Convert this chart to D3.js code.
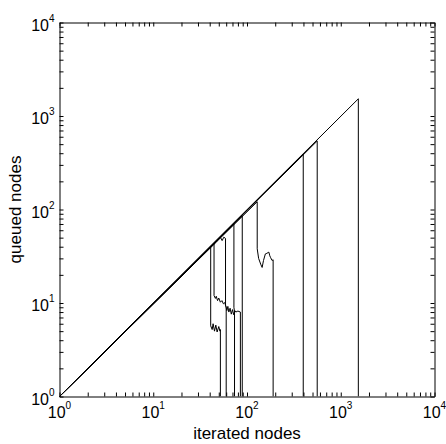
<!DOCTYPE html>
<html>
<head>
<meta charset="utf-8">
<script src="https://cdn.jsdelivr.net/npm/d3@7"></script>
<style>
  html, body { margin: 0; padding: 0; background: #fff; }
  svg { display: block; font-family: "Liberation Sans", Arial, sans-serif; }
</style>
</head>
<body>
<svg id="chart" width="446" height="444"></svg>
<script>
// ---- data: (iterated nodes, queued nodes) for each run ----
const runA = [[1,1],[41,40],[41,5.7],[42.5,5.2],[43.5,6],[45,5],[46.5,5.8],[48,4.9],[50,5.6],[51.5,5],[52,5.2],[52,1]];
const runB = [[1,1],[44.5,43.5],[44.5,12],[46,11.2],[47,11.8],[48.5,10.6],[50,11.3],[52,10.2],[54,10.6],[56,9.8],[58,10.1],[59.5,9.2],[61,8.3],[62.5,9.2],[64,8],[66,8.8],[68,7.6],[70,8.5],[72,7.5],[74,8.3],[76,8],[80,8.2],[85,8],[85,1]];
const runC = [[1,1],[47,45],[52,50.5],[54.3,46.5],[56.6,50.6],[59,49],[59,9.4],[60,9],[60,1]];
const runD = [[1,1],[72.5,70],[72.5,9],[73.6,8],[73.6,1]];
const runE = [[1,1],[89,86],[89,1]];
const runF = [[1,1],[128.5,121],[128.5,38],[133,30],[140,26],[145,24],[150,28.5],[157,33.5],[163,34],[171,35],[175,32],[178,30.8],[185,28.5],[190,29],[190,1]];
const runG = [[1,1],[398,392],[398,1]];
const runH = [[1,1],[561,540],[561,1]];
const runI = [[1,1],[1540,1528],[1540,1]];
const runs = [runA, runB, runC, runD, runE, runF, runG, runH, runI];

const decades = [1, 10, 100, 1000, 10000];
const exponents = ["0", "1", "2", "3", "4"];
const minorMultipliers = [2, 3, 4, 5, 6, 7, 8, 9];
const xLabel = "iterated nodes";
const yLabel = "queued nodes";

// ---- layout ----
const svg = d3.select("#chart");
const pLeft = 59.5, pRight = 434.5, pTop = 22.5, pBottom = 396.5;

const x = d3.scaleLog().domain([1, 1e4]).range([pLeft, pRight]);
const y = d3.scaleLog().domain([1, 1e4]).range([pBottom, pTop]);

const allTicks = [];
decades.forEach((d, i) => {
  allTicks.push(d);
  if (i < decades.length - 1) minorMultipliers.forEach(m => allTicks.push(d * m));
});

const tickLen = 4;
function styleAxis(g) {
  g.selectAll("path.domain").attr("stroke", "#000").attr("stroke-width", 1);
  g.selectAll(".tick line").attr("stroke", "#000").attr("stroke-width", 1);
}
svg.append("g").attr("transform", `translate(0,${pBottom})`)
  .call(d3.axisBottom(x).tickValues(allTicks).tickSize(-tickLen).tickSizeOuter(0).tickFormat(""))
  .call(styleAxis);
svg.append("g").attr("transform", `translate(0,${pTop})`)
  .call(d3.axisTop(x).tickValues(allTicks).tickSize(-tickLen).tickSizeOuter(0).tickFormat(""))
  .call(styleAxis);
svg.append("g").attr("transform", `translate(${pLeft},0)`)
  .call(d3.axisLeft(y).tickValues(allTicks).tickSize(-tickLen).tickSizeOuter(0).tickFormat(""))
  .call(styleAxis);
svg.append("g").attr("transform", `translate(${pRight},0)`)
  .call(d3.axisRight(y).tickValues(allTicks).tickSize(-tickLen).tickSizeOuter(0).tickFormat(""))
  .call(styleAxis);

// ---- tick labels: 10^n ----
function powLabel(sel) {
  sel.append("tspan").attr("font-size", 16).text("10");
  sel.append("tspan").attr("font-size", 10).attr("dy", -9).text((d, i) => exponents[i]);
}
svg.append("g").selectAll("text").data(decades).join("text")
  .attr("x", d => x(d)).attr("y", 418)
  .attr("text-anchor", "middle").attr("fill", "#000")
  .call(powLabel);
svg.append("g").selectAll("text").data(decades).join("text")
  .attr("x", pLeft - 5).attr("y", d => y(d) + 8)
  .attr("text-anchor", "end").attr("fill", "#000")
  .call(powLabel);

// ---- axis titles ----
svg.append("text")
  .attr("x", (pLeft + pRight) / 2).attr("y", 438.5)
  .attr("text-anchor", "middle").attr("font-size", 17).attr("fill", "#000")
  .text(xLabel);
svg.append("text")
  .attr("transform", `translate(21,${(pTop + pBottom) / 2}) rotate(-90)`)
  .attr("text-anchor", "middle").attr("font-size", 17).attr("fill", "#000")
  .text(yLabel);

// ---- data lines ----
svg.append("defs").append("clipPath").attr("id", "plotclip")
  .append("rect").attr("x", pLeft).attr("y", pTop).attr("width", pRight - pLeft).attr("height", pBottom - pTop);

const line = d3.line().x(d => x(d[0])).y(d => y(d[1]));
svg.append("g").attr("clip-path", "url(#plotclip)")
  .selectAll("path").data(runs).join("path")
  .attr("d", line)
  .attr("fill", "none")
  .attr("stroke", "#000")
  .attr("stroke-width", 1);
</script>
</body>
</html>
